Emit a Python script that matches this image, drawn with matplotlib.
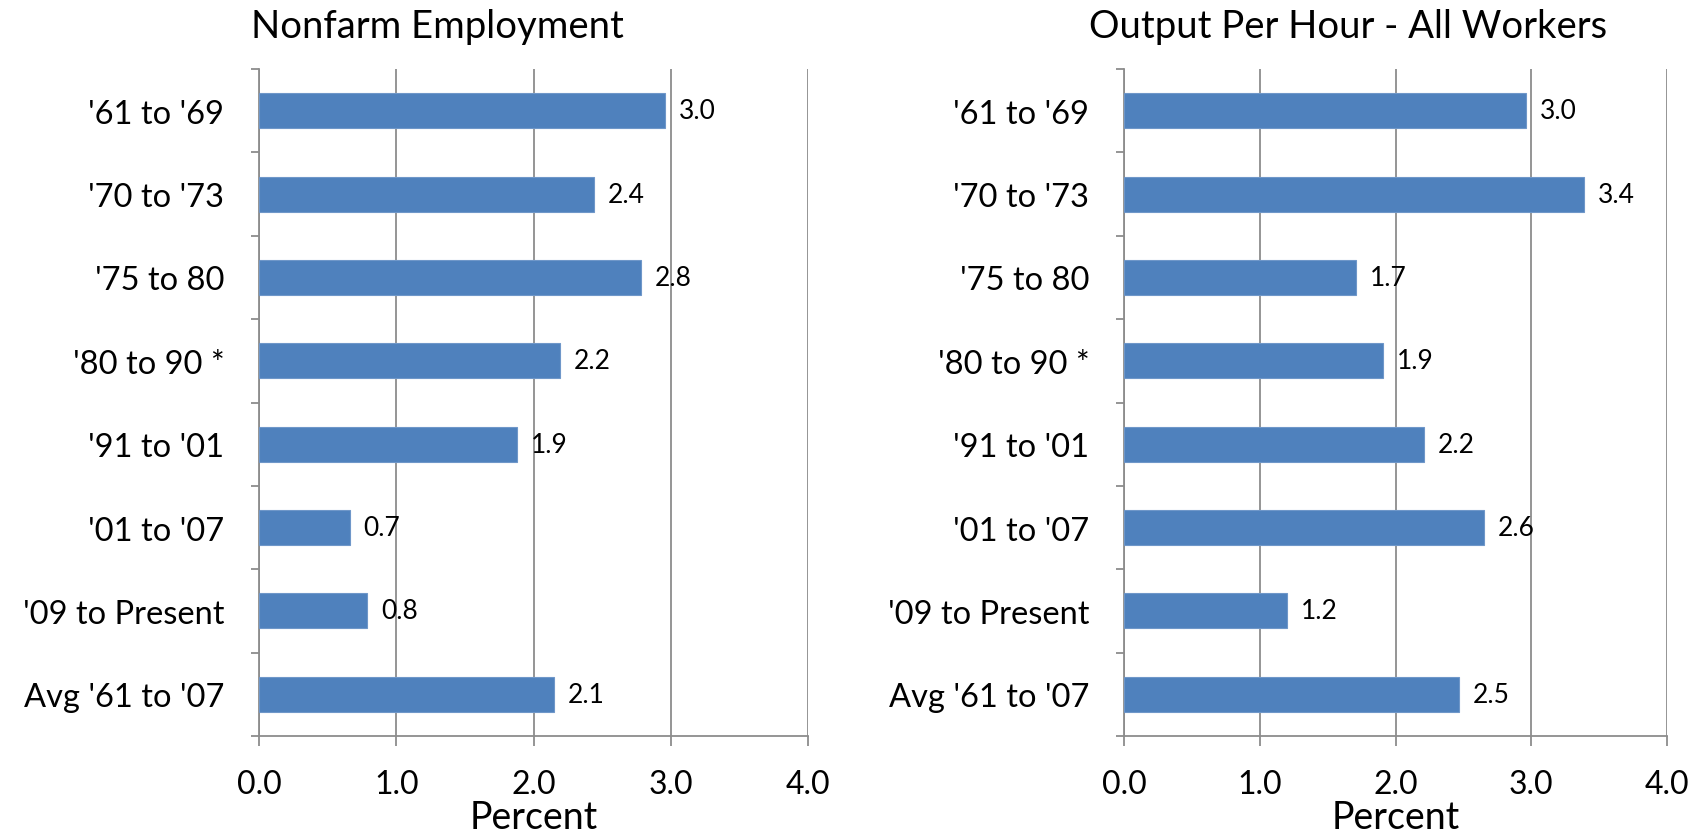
import matplotlib
matplotlib.use("Agg")
import matplotlib.pyplot as plt
import numpy as np

categories = ["'61 to '69", "'70 to '73", "'75 to 80", "'80 to 90 *", "'91 to '01",
              "'01 to '07", "'09 to Present", "Avg '61 to '07"]
nonfarm = [2.96, 2.44, 2.78, 2.19, 1.88, 0.66, 0.79, 2.15]
output_per_hour = [2.96, 3.39, 1.71, 1.91, 2.21, 2.65, 1.20, 2.47]
xticks = [0.0, 1.0, 2.0, 3.0, 4.0]
titles = ["Nonfarm Employment", "Output Per Hour - All Workers"]
xlabel = "Percent"

plt.rcParams['font.family'] = ['Lato', 'DejaVu Sans']

fig = plt.figure(figsize=(16.91, 8.37), dpi=100)
bar_color = '#4F81BD'
grid_color = '#8C8C8C'

axes_pos = [[259/1691, 1-737/837, 549/1691, 667/837],
            [1124/1691, 1-737/837, 543/1691, 667/837]]
title_x = [437/1691, 1348/1691]

for pos, vals, title, tx in zip(axes_pos, [nonfarm, output_per_hour], titles, title_x):
    ax = fig.add_axes(pos)
    y = np.arange(len(categories))
    ax.barh(y, vals, height=0.42, color=bar_color, edgecolor='#6F97C9', linewidth=0.8, zorder=3)
    for yi, v in zip(y, vals):
        ax.text(v + 0.1, yi, f"{v:.1f}", va='center', ha='left', fontsize=19, zorder=4)
    ax.set_xlim(0, 4)
    ax.set_ylim(len(categories) - 0.5, -0.5)
    ax.set_xticks(xticks)
    ax.set_xticklabels([f"{t:.1f}" for t in xticks], fontsize=23)
    ax.set_yticks(y)
    ax.set_yticklabels(categories, fontsize=23.5)
    ax.tick_params(axis='y', which='major', length=0, pad=25)
    ax.set_yticks(np.arange(-0.5, len(categories), 1.0), minor=True)
    ax.tick_params(axis='y', which='minor', length=6, color=grid_color, width=1.3, direction='out')
    ax.tick_params(axis='x', length=7, color=grid_color, width=1.3, direction='out', pad=17)
    ax.grid(axis='x', color=grid_color, linewidth=1.3, zorder=0)
    for s in ['top', 'right']:
        ax.spines[s].set_visible(False)
    for s in ['left', 'bottom']:
        ax.spines[s].set_color(grid_color)
        ax.spines[s].set_linewidth(1.3)
    ax.set_xlabel(xlabel, fontsize=27, labelpad=0)
    fig.text(tx, 1-27/837, title, ha='center', va='center', fontsize=27.5)

fig.savefig("out.png", dpi=100)
